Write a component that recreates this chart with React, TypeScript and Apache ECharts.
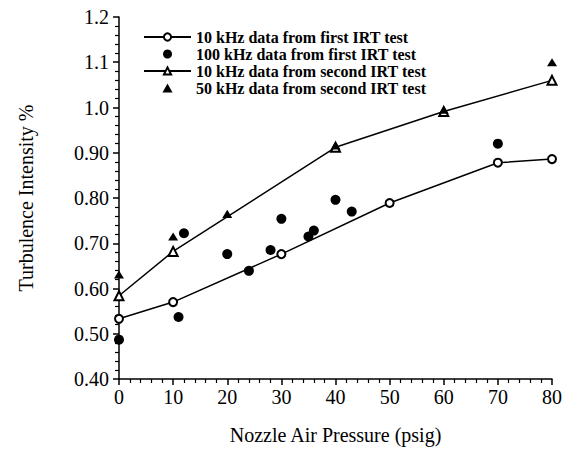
import React, { useEffect, useRef } from "react";
import * as echarts from "echarts";

const seriesNames = [
  "10 kHz data from first IRT test",
  "100 kHz data from first IRT test",
  "10 kHz data from second IRT test",
  "50 kHz data from second IRT test",
];

const first10X = [0, 10, 30, 50, 70, 80];
const first10Y = [0.533, 0.57, 0.676, 0.789, 0.878, 0.886];

const first100X = [0, 11, 12, 20, 24, 28, 30, 35, 36, 40, 43, 70];
const first100Y = [0.487, 0.537, 0.722, 0.676, 0.639, 0.685, 0.754, 0.715, 0.728, 0.796, 0.77, 0.92];

const second10X = [0, 10, 40, 60, 80];
const second10Y = [0.584, 0.682, 0.912, 0.991, 1.06];

const second50X = [0, 10, 20, 40, 60, 80];
const second50Y = [0.631, 0.715, 0.765, 0.916, 0.995, 1.1];

const yTickValues = [0.4, 0.5, 0.6, 0.7, 0.8, 0.9, 1.0, 1.1, 1.2];
const yTickLabels = ["0.40", "0.50", "0.60", "0.70", "0.80", "0.90", "1.0", "1.1", "1.2"];

const xTitle = "Nozzle Air Pressure (psig)";
const yTitle = "Turbulence Intensity %";

const zip = (xs: number[], ys: number[]) => xs.map((x, i) => [x, ys[i]]);

const FONT = "Liberation Serif";
const TRIANGLE = "path://M5,0 L10,9 L0,9 Z";

export default function App() {
  const ref = useRef<HTMLDivElement>(null);
  useEffect(() => {
    if (!ref.current) return;
    const chart = echarts.init(ref.current, null, { renderer: "svg" });
    const axisCommon = {
      axisLine: { show: true, lineStyle: { color: "#000", width: 1.5 } },
      axisTick: { show: true, inside: false, length: 6, lineStyle: { color: "#000", width: 1.5 } },
      minorTick: { show: true, splitNumber: 5, length: 4, lineStyle: { color: "#000", width: 1.2 } },
      splitLine: { show: false },
      axisLabel: { color: "#000", fontFamily: FONT, fontSize: 20 },
      nameTextStyle: { color: "#000", fontFamily: FONT, fontSize: 20 },
      nameLocation: "middle" as const,
    };
    chart.setOption({
      animation: false,
      backgroundColor: "#fff",
      grid: { left: 119, right: 16, top: 17, bottom: 65, containLabel: false },
      legend: {
        orient: "vertical",
        left: 138,
        top: 24,
        itemWidth: 47,
        itemHeight: 9,
        itemGap: 1,
        textStyle: { color: "#000", fontFamily: FONT, fontSize: 16, fontWeight: "bold" },
        data: seriesNames,
      },
      xAxis: {
        type: "value",
        min: 0,
        max: 80,
        interval: 10,
        name: xTitle,
        nameGap: 46,
        ...axisCommon,
        axisLabel: { ...axisCommon.axisLabel, margin: 8 },
      },
      yAxis: {
        type: "value",
        min: 0.4,
        max: 1.2,
        interval: 0.1,
        name: yTitle,
        nameGap: 83,
        ...axisCommon,
        axisLabel: {
          ...axisCommon.axisLabel,
          margin: 10,
          formatter: (v: number) => {
            const i = yTickValues.findIndex((t) => Math.abs(t - v) < 1e-6);
            return i >= 0 ? yTickLabels[i] : "";
          },
        },
      },
      series: [
        {
          name: seriesNames[0],
          type: "line",
          data: zip(first10X, first10Y),
          symbol: "emptyCircle",
          symbolSize: 8,
          lineStyle: { color: "#000", width: 1.5 },
          itemStyle: { color: "#000", borderColor: "#000", borderWidth: 1.5 },
          clip: false,
          z: 3,
        },
        {
          name: seriesNames[1],
          type: "scatter",
          data: zip(first100X, first100Y),
          symbol: "circle",
          symbolSize: 10,
          itemStyle: { color: "#000", opacity: 1 },
          clip: false,
          z: 4,
        },
        {
          name: seriesNames[2],
          type: "line",
          data: zip(second10X, second10Y),
          symbol: "emptyTriangle",
          symbolSize: 9,
          lineStyle: { color: "#000", width: 1.5 },
          itemStyle: { color: "#000", borderColor: "#000", borderWidth: 1.5 },
          clip: false,
          z: 3,
        },
        {
          name: seriesNames[3],
          type: "scatter",
          data: zip(second50X, second50Y),
          symbol: TRIANGLE,
          symbolKeepAspect: true,
          symbolSize: [10, 9],
          itemStyle: { color: "#000", opacity: 1 },
          clip: false,
          z: 4,
        },
      ],
    });
    return () => chart.dispose();
  }, []);
  return (
    <div
      ref={ref}
      style={{ position: "absolute", left: 0, top: 0, width: 568, height: 450 }}
    />
  );
}
